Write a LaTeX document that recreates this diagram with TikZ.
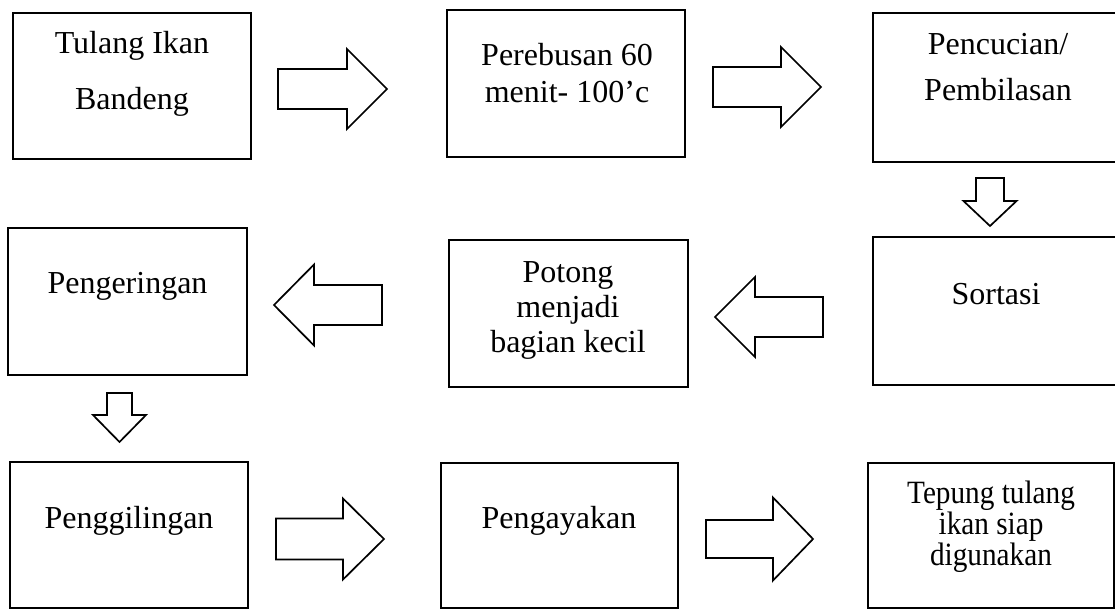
\documentclass[tikz,border=0pt]{standalone}
\usepackage{fontspec}
\setmainfont{Liberation Serif}
\newfontfamily\narrowserif[FakeStretch=0.9]{Liberation Serif}

% Horizontal block arrow: tail x, head-base x, tip x, centre y, shaft half-height, head half-height
\newcommand\hblock[6]{%
  \draw[blockarrow] (#1,{#4-#5}) -- (#2,{#4-#5}) -- (#2,{#4-#6}) -- (#3,#4)
    -- (#2,{#4+#6}) -- (#2,{#4+#5}) -- (#1,{#4+#5}) -- cycle;}
% Vertical block arrow: centre x, tail y, head-base y, tip y, shaft half-width, head half-width
\newcommand\vblock[6]{%
  \draw[blockarrow] ({#1-#5},#2) -- ({#1+#5},#2) -- ({#1+#5},#3) -- ({#1+#6},#3)
    -- (#1,#4) -- ({#1-#6},#3) -- ({#1-#5},#3) -- cycle;}

\tikzset{
  box/.style={draw, line width=1.8pt, inner sep=0pt, fill=white},
  lbl/.style={font=\fontsize{32}{36}\selectfont, align=center, inner sep=0pt, anchor=base},
  blockarrow/.style={draw, line width=1.7pt, fill=white, line join=miter},
}

\begin{document}
\begin{tikzpicture}[x=1pt, y=-1pt]
  \fill[white] (0,0) rectangle (1115,610);
  \path[clip] (0,0) rectangle (1115,610);

  % process boxes
  \node[box, minimum width=238, minimum height=146] (tulang)  at (132,86)     {};
  \node[box, minimum width=238, minimum height=147] (rebus)   at (566,83.5)   {};
  \node[box, minimum width=247, minimum height=149] (cuci)    at (996.5,87.5) {};
  \node[box, minimum width=247, minimum height=148] (sortasi) at (996.5,311)  {};
  \node[box, minimum width=239, minimum height=147] (potong)  at (568.5,313.5){};
  \node[box, minimum width=239, minimum height=147] (kering)  at (127.5,301.5){};
  \node[box, minimum width=238, minimum height=146] (giling)  at (129,535)    {};
  \node[box, minimum width=237, minimum height=145] (ayak)    at (559.5,535.5){};
  \node[box, minimum width=246, minimum height=145] (tepung)  at (991,535.5)  {};

  % labels (base anchor = baseline of the last line)
  \node[lbl, font=\fontsize{32}{55}\selectfont] (tTulang) at (132,109) {Tulang Ikan\\Bandeng};
  \node[lbl] (tRebus) at (567,102) {Perebusan 60\\menit- 100’c};
  \node[lbl, font=\fontsize{32}{46}\selectfont] (tCuci) at (998,100) {Pencucian/\\Pembilasan};
  \node[lbl] (tSortasi) at (996,304) {Sortasi};
  \node[lbl, font=\fontsize{32}{35}\selectfont] (tPotong) at (568,352) {Potong\\menjadi\\bagian kecil};
  \node[lbl] (tKering) at (127.5,293) {Pengeringan};
  \node[lbl] (tGiling) at (129,528) {Penggilingan};
  \node[lbl] (tAyak) at (559,528) {Pengayakan};
  \node[lbl, font=\narrowserif\fontsize{32.5}{29}\selectfont] (tTepung) at (991,565) {Tepung tulang\\ikan siap\\digunakan};

  % block arrows between the steps
  \hblock{278}{347}{387}{89}{20}{40}
  \hblock{713}{781}{821}{87}{20}{40}
  \vblock{990}{178}{201}{226}{14}{26.5}
  \hblock{823}{755}{715}{317}{20}{40}
  \hblock{382}{314}{274}{305}{20}{40.5}
  \vblock{119.5}{393}{415}{442}{12.5}{26.5}
  \hblock{276}{343}{384}{539}{20.5}{40.5}
  \hblock{706}{773}{813}{539}{19}{41.5}
\end{tikzpicture}
\end{document}
